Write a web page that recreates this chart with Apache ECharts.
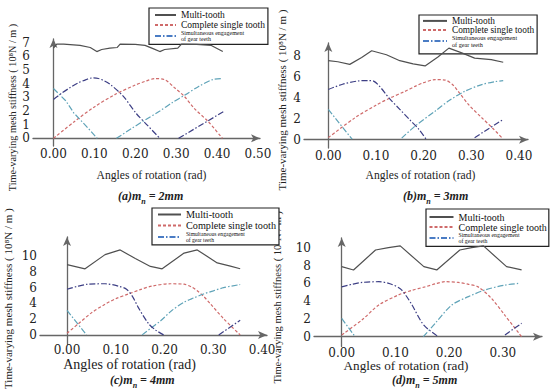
<!DOCTYPE html>
<html><head><meta charset="utf-8">
<script src="https://cdn.jsdelivr.net/npm/echarts@6/dist/echarts.min.js"></script>
<style>html,body{margin:0;padding:0;background:#fff}#c{width:550px;height:391px}</style>
</head><body><div id="c"></div>
<script>
// ---------- DATA ----------
// (a) m_n = 2mm
const A_xTicks = [0, 0.1, 0.2, 0.3, 0.4, 0.5];
const A_yTicks = [0, 1, 2, 3, 4, 5, 6, 7];
const A_multi = [[0,6.6],[0.008,6.9],[0.025,6.9],[0.065,6.8],[0.09,6.65],[0.106,6.35],[0.118,6.5],[0.138,6.6],[0.156,6.65],[0.163,6.9],[0.2,6.88],[0.224,6.8],[0.245,6.55],[0.26,6.35],[0.272,6.5],[0.304,6.6],[0.313,6.9],[0.35,6.88],[0.386,6.8],[0.414,6.35]];
const A_single = [[0,0],[0.05,1.2],[0.1,2.3],[0.15,3.2],[0.2,3.9],[0.224,4.17],[0.248,4.37],[0.272,4.29],[0.297,3.68],[0.32,3.07],[0.344,2.2],[0.378,1.24],[0.413,0]];
const A_simFall = [[0,3.65],[0.03,2.75],[0.05,1.85],[0.08,0.9],[0.107,0]];
const A_simRise = [[0.154,0],[0.19,0.7],[0.225,1.36],[0.26,2.0],[0.29,2.6],[0.323,3.2],[0.355,3.8],[0.389,4.3],[0.413,4.38]];
const A_prevHump = [[0,2.85],[0.02,3.3],[0.04,3.7],[0.06,4.05],[0.08,4.3],[0.095,4.42],[0.11,4.38],[0.125,4.2],[0.14,3.92],[0.171,3.07],[0.203,1.8],[0.23,0.95],[0.26,0]];
const A_prevRise = [[0.306,0],[0.417,1.98]];
// (b) m_n = 3mm
const B_xTicks = [0, 0.1, 0.2, 0.3, 0.4];
const B_yTicks = [0, 2, 4, 6, 8];
const B_multi = [[0,7.55],[0.02,7.45],[0.045,7.2],[0.07,7.85],[0.091,8.5],[0.122,8.12],[0.15,7.55],[0.178,7.25],[0.203,7.05],[0.23,7.9],[0.253,8.75],[0.28,8.3],[0.307,7.8],[0.342,7.65],[0.367,7.4]];
const B_single = [[0,0.2],[0.056,2.1],[0.1,3.3],[0.13,4.0],[0.16,4.6],[0.182,5.1],[0.2,5.45],[0.224,5.74],[0.245,5.7],[0.26,5.3],[0.273,4.6],[0.294,3.37],[0.322,2.1],[0.345,1.1],[0.364,0.2]];
const B_simFall = [[0,2.9],[0.05,0.05]];
const B_simRise = [[0.154,0.15],[0.182,1.3],[0.224,2.73],[0.252,3.69],[0.287,4.64],[0.322,5.27],[0.35,5.55],[0.367,5.65]];
const B_prevHump = [[0,4.8],[0.03,5.3],[0.06,5.6],[0.085,5.65],[0.095,5.6],[0.13,3.85],[0.15,2.9],[0.171,1.9],[0.19,1.0],[0.206,0]];
const B_prevRise = [[0.307,0.2],[0.367,1.94]];
// (c) m_n = 4mm
const C_xTicks = [0, 0.1, 0.2, 0.3, 0.4];
const C_yTicks = [0, 2, 4, 6, 8, 10];
const C_multi = [[0,8.94],[0.037,8.4],[0.078,10.2],[0.109,10.8],[0.14,9.7],[0.171,8.7],[0.195,8.4],[0.24,10.4],[0.267,10.8],[0.308,9.15],[0.335,8.73],[0.355,8.4]];
const C_single = [[0,0.2],[0.023,1.4],[0.05,2.8],[0.078,3.9],[0.1,4.6],[0.126,5.2],[0.15,5.75],[0.174,6.2],[0.212,6.5],[0.24,6.44],[0.255,6.1],[0.267,5.6],[0.28,4.9],[0.294,3.94],[0.321,2.06],[0.355,0]];
const C_simFall = [[0,3.1],[0.04,0]];
const C_simRise = [[0.154,0],[0.175,1.0],[0.192,1.8],[0.215,3.1],[0.24,4.15],[0.26,4.7],[0.28,5.2],[0.3,5.6],[0.321,6.0],[0.355,6.4]];
const C_prevHump = [[0,5.8],[0.02,6.15],[0.044,6.45],[0.078,6.5],[0.105,6.2],[0.122,5.8],[0.135,4.8],[0.146,3.5],[0.167,1.44],[0.182,0.6],[0.198,0]];
const C_prevRise = [[0.311,0],[0.355,1.85]];
// (d) m_n = 5mm
const D_xTicks = [0, 0.1, 0.2, 0.3];
const D_yTicks = [0, 2, 4, 6, 8, 10];
const D_multi = [[0,7.87],[0.022,7.5],[0.063,9.74],[0.087,10.0],[0.109,10.2],[0.153,7.87],[0.177,7.5],[0.22,9.74],[0.242,10.0],[0.264,10.2],[0.307,7.87],[0.335,7.5]];
const D_single = [[0,0.2],[0.038,1.9],[0.069,3.56],[0.106,4.7],[0.13,5.2],[0.155,5.6],[0.175,5.95],[0.192,6.18],[0.217,6.1],[0.235,5.9],[0.254,5.6],[0.279,4.3],[0.304,2.4],[0.335,0]];
const D_simFall = [[0,2.05],[0.025,0]];
const D_simRise = [[0.152,0],[0.174,1.5],[0.205,3.56],[0.236,4.5],[0.267,5.25],[0.304,5.8],[0.332,6.0]];
const D_prevHump = [[0,5.6],[0.02,5.9],[0.038,6.1],[0.069,6.18],[0.09,5.95],[0.109,5.4],[0.12,4.6],[0.131,3.56],[0.153,1.3],[0.18,0]];
const D_prevRise = [[0.304,0.2],[0.335,1.5]];

const MULTI = 'Multi-tooth';
const SINGLE = 'Complete single tooth';
const SIM = 'Simultaneous engagement of gear teeth';
const PREV = 'Preceding tooth engagement';
const CAPTIONS = [['a','2'],['b','3'],['c','4'],['d','5']];
const X_NAME = 'Angles of rotation (rad)';
const Y_NAME = 'Time-varying mesh stiffness ( 10\u2078N / m )';

// ---------- STYLE / LAYOUT ----------
const SERIF = "'Liberation Serif', 'Times New Roman', serif";
const DSERIF = "'DejaVu Serif', serif";
const COL = {multi:'#505050', single:'#cf6a6a', sim:'#5fa3b8', prev:'#3d3f85'};

const grids = [
  {left:33, top:39, width:227, height:107},
  {left:304, top:43, width:224, height:105},
  {left:40, top:237, width:227, height:109},
  {left:314, top:238, width:228, height:108.5}
];
const xCfg = [
  {min:-0.05, max:0.505, ticks:A_xTicks, gap:23, fs:11.6, pad:[0,0,0,10], m:2},
  {min:-0.051, max:0.419, ticks:B_xTicks, gap:21, fs:11.6, pad:[0,0,0,9], m:2},
  {min:-0.0554, max:0.41, ticks:C_xTicks, gap:12, fs:14, pad:[0,48,0,0], m:0},
  {min:-0.0516, max:0.373, ticks:D_xTicks, gap:11, fs:13.2, pad:[0,44,0,0], m:0}
];
const yCfg = [
  {min:-0.56, max:7.27, ticks:A_yTicks, gap:15.6, fs:10.2, pad:[0,30,0,0]},
  {min:-0.79, max:9.24, ticks:B_yTicks, gap:16.8, fs:11, pad:[0,9,0,0]},
  {min:-1.19, max:12.44, ticks:C_yTicks, gap:27, fs:11, pad:[0,16,0,0]},
  {min:-1.1, max:11.09, ticks:D_yTicks, gap:31.5, fs:10.5, pad:[0,10,0,0]}
];
const axisLine = {show:true, symbol:['none','arrow'], symbolSize:[6,9], lineStyle:{color:'#666', width:1.3}};

const xAxis = xCfg.map((c,i)=>({
  type:'value', gridIndex:i, min:c.min, max:c.max,
  name:X_NAME, nameLocation:'middle', nameGap:c.gap,
  nameTextStyle:{fontFamily:SERIF, fontSize:c.fs, color:'#222', padding:c.pad},
  axisLine, axisTick:{show:false}, splitLine:{show:false},
  axisLabel:{customValues:c.ticks, formatter:v=>v.toFixed(2), fontFamily:DSERIF, fontSize:12, color:'#222', margin:c.m}
}));
const yAxis = yCfg.map((c,i)=>({
  type:'value', gridIndex:i, min:c.min, max:c.max,
  name:Y_NAME, nameLocation:'middle', nameGap:c.gap, nameRotate:90,
  nameTextStyle:{fontFamily:SERIF, fontSize:c.fs, color:'#222', padding:c.pad},
  axisLine, axisTick:{show:false}, splitLine:{show:false},
  axisLabel:{customValues:c.ticks, formatter:v=>String(v), fontFamily:DSERIF, fontSize:12, color:'#222', margin:3}
}));

const panels = [
  [A_multi, A_single, A_simFall, A_simRise, A_prevHump, A_prevRise],
  [B_multi, B_single, B_simFall, B_simRise, B_prevHump, B_prevRise],
  [C_multi, C_single, C_simFall, C_simRise, C_prevHump, C_prevRise],
  [D_multi, D_single, D_simFall, D_simRise, D_prevHump, D_prevRise]
];
const DASHDOT = [6,2,1.5,2];
function ln(name, data, i, color, type, smooth, z){
  return {type:'line', name, data, xAxisIndex:i, yAxisIndex:i, symbol:'none', smooth,
    lineStyle:{color, width:1.2, type}, itemStyle:{color}, z:z||2, animation:false};
}
const series = [];
panels.forEach((p,i)=>{
  series.push(ln(PREV, p[4], i, COL.prev, DASHDOT, 0.3, 3));
  series.push(ln(PREV, p[5], i, COL.prev, DASHDOT, 0, 3));
  series.push(ln(SINGLE, p[1], i, COL.single, [3,2], 0.3, 2));
  series.push(ln(SIM, p[2], i, COL.sim, DASHDOT, 0, 2));
  series.push(ln(SIM, p[3], i, COL.sim, DASHDOT, 0.3, 2));
  series.push(ln(MULTI, p[0], i, COL.multi, 'solid', false, 4));
});

const legCfg = [
  {left:149, top:8, pad:[2,3,2.3,5], iw:21, fs:9.5, lh:9.3, fss:6, lhs:6},
  {left:419, top:15, pad:[1.4,3,6,3], iw:24, fs:9.3, lh:8.6, fss:6.2, lhs:6.7},
  {left:152, top:208, pad:[1,3,2,5], iw:23, fs:10.2, lh:11, fss:5.6, lhs:5.8},
  {left:426, top:209, pad:[3,2,2.5,2.5], iw:24, fs:10, lh:9, fss:5.8, lhs:5.8}
];
const legend = legCfg.map(c=>({
  left:c.left, top:c.top, orient:'vertical', padding:c.pad, itemWidth:c.iw, itemHeight:6, itemGap:0,
  borderColor:'#222', borderWidth:1.2, backgroundColor:'#fff', selectedMode:false,
  itemStyle:{opacity:0},
  textStyle:{fontFamily:SERIF, fontSize:c.fs, lineHeight:c.lh, color:'#111'},
  formatter:n=> n===SIM ? 'Simultaneous engagement\nof gear teeth' : n,
  data:[MULTI, SINGLE, {name:SIM, textStyle:{fontSize:c.fss, lineHeight:c.lhs}, lineStyle:{color:'#4a7cc4'}}]
}));

const capPos = [[118,187],[403,187],[110,371],[392,371]];
const title = CAPTIONS.map((c,i)=>({
  left:capPos[i][0], top:capPos[i][1], padding:0,
  text:`{p|(${c[0]})m}{s|n}{p| = ${c[1]}mm}`,
  textStyle:{rich:{
    p:{fontFamily:SERIF, fontStyle:'italic', fontSize:12, color:'#222', lineHeight:18, verticalAlign:'middle'},
    s:{fontFamily:SERIF, fontStyle:'italic', fontSize:8, color:'#222', lineHeight:10, verticalAlign:'bottom'}
  }}
}));

const chart = echarts.init(document.getElementById('c'), null, {renderer:'svg'});
chart.setOption({animation:false, backgroundColor:'#fff', grid:grids, xAxis, yAxis, series, legend, title});
</script></body></html>
